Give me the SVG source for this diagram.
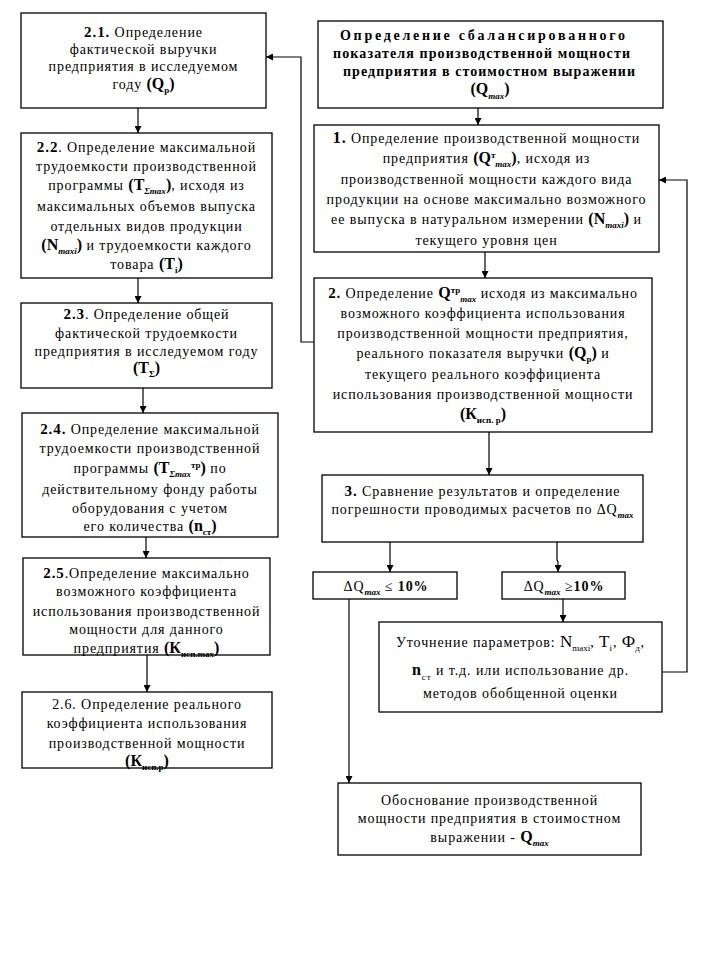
<svg xmlns="http://www.w3.org/2000/svg" width="701" height="961" viewBox="0 0 701 961">
<defs>
<style>
.box{fill:#fff;stroke:#000;stroke-width:1.3}
.t{font-family:"Liberation Serif","Times New Roman",serif;font-size:14px;letter-spacing:0.9px;text-anchor:middle;fill:#000}
.tb{font-family:"Liberation Serif","Times New Roman",serif;font-size:14px;font-weight:bold;text-anchor:middle;fill:#000}
.b{font-weight:bold}
.big{font-weight:bold;font-size:16px;letter-spacing:0}
.sub{font-size:9px;font-weight:bold;letter-spacing:0}
.subi{font-size:9px;font-weight:bold;font-style:italic;letter-spacing:0}
.con{fill:none;stroke:#000;stroke-width:1.2}
</style>
<marker id="ah" viewBox="0 0 10 10" refX="10" refY="5" markerWidth="7" markerHeight="7" markerUnits="userSpaceOnUse" orient="auto">
<path d="M0,0 L10,5 L0,10 z" fill="#000"/>
</marker>
</defs>
<rect width="701" height="961" fill="#fff"/>

<g id="connectors">
<path class="con" d="M138,108 V133" marker-end="url(#ah)"/>
<path class="con" d="M138,278 V303" marker-end="url(#ah)"/>
<path class="con" d="M143,388 V413" marker-end="url(#ah)"/>
<path class="con" d="M146,537 V558" marker-end="url(#ah)"/>
<path class="con" d="M147,655 V692" marker-end="url(#ah)"/>
<path class="con" d="M478,108 V125" marker-end="url(#ah)"/>
<path class="con" d="M485,252 V278" marker-end="url(#ah)"/>
<path class="con" d="M489,432 V475" marker-end="url(#ah)"/>
<path class="con" d="M390,542 V572" marker-end="url(#ah)"/>
<path class="con" d="M557,542 V560 L558,562 V572" marker-end="url(#ah)"/>
<path class="con" d="M563,599 V622" marker-end="url(#ah)"/>
<path class="con" d="M349,599 V783" marker-end="url(#ah)"/>
<path class="con" d="M662,672 H687 V180 H659" marker-end="url(#ah)"/>
<path class="con" d="M314,342 H301 V57 H266" marker-end="url(#ah)"/>
</g>

<g id="n21">
<rect class="box" x="21" y="13" width="245" height="95"/>
<text class="t" x="143.5" y="37"><tspan class="b" font-size="15">2.1.</tspan> Определение</text>
<text class="t" x="143.5" y="54">фактической выручки</text>
<text class="t" x="143.5" y="71">предприятия в исследуемом</text>
<text class="t" x="143.5" y="89">году <tspan class="big">(Q</tspan><tspan class="sub" dy="4">р</tspan><tspan class="big" dy="-4">)</tspan></text>
</g>

<g id="nQmax">
<rect class="box" x="318" y="21" width="345" height="87"/>
<text class="tb" x="482.5" y="40" textLength="285" lengthAdjust="spacing">Определение сбалансированного</text>
<text class="tb" x="481.5" y="58" textLength="297" lengthAdjust="spacing">показателя производственной мощности</text>
<text class="tb" x="489" y="76" textLength="292" lengthAdjust="spacing">предприятия в стоимостном выражении</text>
<text class="tb" x="490" y="94"><tspan font-size="16">(Q</tspan><tspan class="subi" dy="5">max</tspan><tspan font-size="16" dy="-5">)</tspan></text>
</g>

<g id="n22">
<rect class="box" x="21" y="133" width="251" height="145"/>
<text class="t" x="146.5" y="152"><tspan class="b" font-size="15">2.2</tspan>. Определение максимальной</text>
<text class="t" x="146.5" y="171">трудоемкости производственной</text>
<text class="t" x="146.5" y="190">программы <tspan class="big">(T</tspan><tspan class="subi" dy="4">Σmax</tspan><tspan class="big" dy="-4">)</tspan>, исходя из</text>
<text class="t" x="146.5" y="211">максимальных объемов выпуска</text>
<text class="t" x="146.5" y="231">отдельных видов продукции</text>
<text class="t" x="146.5" y="250"><tspan class="big">(N</tspan><tspan class="subi" dy="4">maxi</tspan><tspan class="big" dy="-4">)</tspan> и трудоемкости каждого</text>
<text class="t" x="146.5" y="269">товара <tspan class="big">(T</tspan><tspan class="sub" dy="4">i</tspan><tspan class="big" dy="-4">)</tspan></text>
</g>

<g id="n1">
<rect class="box" x="314" y="125" width="345" height="127"/>
<text class="t" x="486.5" y="143"><tspan class="b" font-size="16">1.</tspan> Определение производственной мощности</text>
<text class="t" x="486.5" y="163">предприятия <tspan class="big">(Q</tspan><tspan class="sub" dy="-5">т</tspan><tspan class="subi" dy="9">max</tspan><tspan class="big" dy="-4">)</tspan>, исходя из</text>
<text class="t" x="486.5" y="184">производственной мощности каждого вида</text>
<text class="t" x="486.5" y="204">продукции на основе максимально возможного</text>
<text class="t" x="486.5" y="224">ее выпуска в натуральном измерении <tspan class="big">(N</tspan><tspan class="subi" dy="4">maxi</tspan><tspan class="big" dy="-4">)</tspan> и</text>
<text class="t" x="486.5" y="245">текущего уровня цен</text>
</g>

<g id="n23">
<rect class="box" x="21" y="303" width="251" height="85"/>
<text class="t" x="146.5" y="319"><tspan class="b" font-size="15">2.3</tspan>. Определение общей</text>
<text class="t" x="146.5" y="338">фактической трудоемкости</text>
<text class="t" x="146.5" y="356">предприятия в исследуемом году</text>
<text class="t" x="146.5" y="373"><tspan class="big">(T</tspan><tspan class="sub" dy="4">Σ</tspan><tspan class="big" dy="-4">)</tspan></text>
</g>

<g id="n2">
<rect class="box" x="314" y="278" width="338" height="154"/>
<text class="t" x="483" y="298"><tspan class="b" font-size="15">2.</tspan> Определение <tspan class="big">Q</tspan><tspan class="sub" dy="-5">тр</tspan><tspan class="subi" dy="9">max</tspan><tspan dy="-4"> исходя из максимально</tspan></text>
<text class="t" x="483" y="318">возможного коэффициента использования</text>
<text class="t" x="483" y="338">производственной мощности предприятия,</text>
<text class="t" x="483" y="358">реального показателя выручки <tspan class="big">(Q</tspan><tspan class="sub" dy="4">р</tspan><tspan class="big" dy="-4">)</tspan> и</text>
<text class="t" x="483" y="379">текущего реального коэффициента</text>
<text class="t" x="483" y="399">использования производственной мощности</text>
<text class="t" x="483" y="419"><tspan class="big">(К</tspan><tspan class="sub" dy="4">исп. р</tspan><tspan class="big" dy="-4">)</tspan></text>
</g>

<g id="n24">
<rect class="box" x="22" y="413" width="256" height="124"/>
<text class="t" x="150" y="434"><tspan class="b" font-size="15">2.4.</tspan> Определение максимальной</text>
<text class="t" x="150" y="453">трудоемкости производственной</text>
<text class="t" x="150" y="473">программы <tspan class="big">(T</tspan><tspan class="subi" dy="4">Σmax</tspan><tspan class="sub" dy="-9">тр</tspan><tspan class="big" dy="5">)</tspan> по</text>
<text class="t" x="150" y="494">действительному фонду работы</text>
<text class="t" x="150" y="513">оборудования с учетом</text>
<text class="t" x="150" y="531">его количества <tspan class="big">(n</tspan><tspan class="sub" dy="4">ст</tspan><tspan class="big" dy="-4">)</tspan></text>
</g>

<g id="n3">
<rect class="box" x="322" y="475" width="321" height="67"/>
<text class="t" x="482.5" y="496"><tspan class="b" font-size="15">3.</tspan> Сравнение результатов и определение</text>
<text class="t" x="482.5" y="514">погрешности проводимых расчетов по ΔQ<tspan class="subi" dy="4">max</tspan></text>
</g>

<g id="n25">
<rect class="box" x="23" y="558" width="247" height="97"/>
<text class="t" x="146.5" y="578"><tspan class="b" font-size="15">2.5</tspan>.Определение максимально</text>
<text class="t" x="146.5" y="596">возможного коэффициента</text>
<text class="t" x="146.5" y="616">использования производственной</text>
<text class="t" x="146.5" y="634">мощности для данного</text>
<text class="t" x="146.5" y="653">предприятия <tspan class="big">(К</tspan><tspan class="sub" dy="4">исп.max</tspan><tspan class="big" dy="-4">)</tspan></text>
</g>

<g id="n26">
<rect class="box" x="22" y="692" width="250" height="76"/>
<text class="t" x="147" y="709">2.6. Определение реального</text>
<text class="t" x="147" y="728">коэффициента использования</text>
<text class="t" x="147" y="748">производственной мощности</text>
<text class="t" x="147" y="766"><tspan class="big">(К</tspan><tspan class="sub" dy="4">исп.р</tspan><tspan class="big" dy="-4">)</tspan></text>
</g>

<g id="nLe">
<rect class="box" x="313" y="572" width="144" height="27"/>
<text class="t" x="386" y="591">ΔQ<tspan class="subi" dy="4">max</tspan><tspan dy="-4"> ≤ </tspan><tspan class="b">10%</tspan></text>
</g>

<g id="nGe">
<rect class="box" x="502" y="572" width="123" height="27"/>
<text class="t" x="564" y="591">ΔQ<tspan class="subi" dy="4">max</tspan><tspan dy="-4"> ≥</tspan><tspan class="b">10%</tspan></text>
</g>

<g id="nRef">
<rect class="box" x="379" y="622" width="283" height="90"/>
<text class="t" x="520.5" y="647">Уточнение параметров: <tspan font-size="17" letter-spacing="0">N</tspan><tspan font-size="9" letter-spacing="0" dy="4">maxi</tspan><tspan dy="-4">, </tspan><tspan font-size="17" letter-spacing="0">T</tspan><tspan font-size="9" dy="4">i</tspan><tspan dy="-4">, </tspan><tspan font-size="17" letter-spacing="0">Ф</tspan><tspan font-size="9" dy="4">д</tspan><tspan dy="-4">,</tspan></text>
<text class="t" x="520.5" y="675"><tspan class="b" font-size="16">n</tspan><tspan font-size="9" dy="5">ст</tspan><tspan dy="-5"> и т.д. или использование др.</tspan></text>
<text class="t" x="520.5" y="698">методов обобщенной оценки</text>
</g>

<g id="nFinal">
<rect class="box" x="338" y="783" width="303" height="72"/>
<text class="t" x="489.5" y="805">Обоснование производственной</text>
<text class="t" x="489.5" y="823">мощности предприятия в стоимостном</text>
<text class="t" x="489.5" y="842">выражении - <tspan class="big">Q</tspan><tspan class="subi" dy="4">max</tspan></text>
</g>
</svg>
